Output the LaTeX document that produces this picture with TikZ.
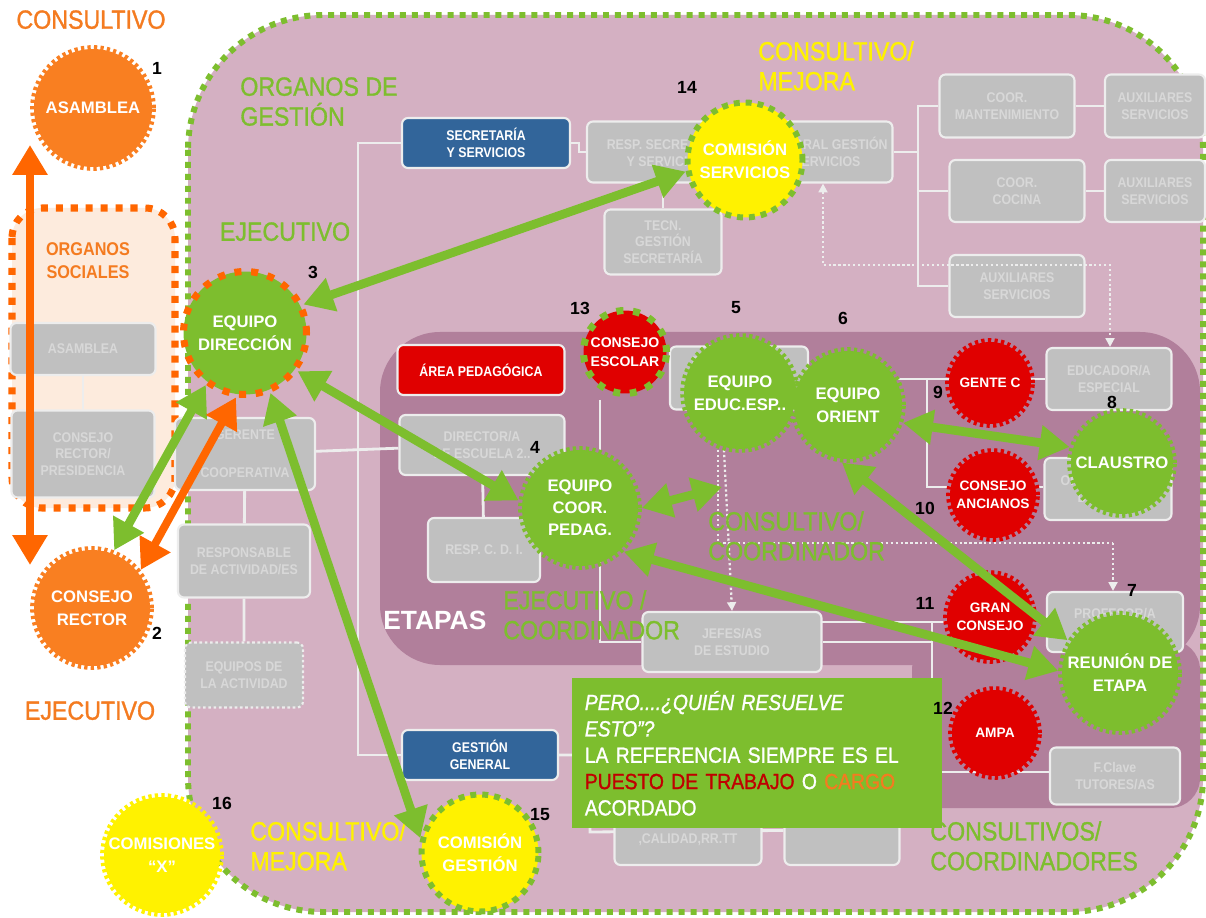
\documentclass[tikz,border=0pt]{standalone}
\usepackage{fontspec}
\setmainfont{Liberation Sans}
\newfontfamily\estrecha{Liberation Sans}[FakeStretch=0.88]
\newfontfamily\rotfont{Liberation Sans}[FakeStretch=0.88, FakeBold=1.2]
\usetikzlibrary{arrows.meta}

\definecolor{verde}{HTML}{7DBE2E}
\definecolor{naranja}{HTML}{F97F21}
\definecolor{naranjaF}{HTML}{FF6600}
\definecolor{naranjaT}{HTML}{F47B20}
\definecolor{rojo}{HTML}{E00000}
\definecolor{rojoT}{HTML}{C00000}
\definecolor{amarillo}{HTML}{FFF200}
\definecolor{azul}{HTML}{32659A}
\definecolor{gris}{HTML}{C0C0C0}
\definecolor{grisT}{HTML}{D8D8D8}
\definecolor{grisB}{HTML}{EDEDED}
\definecolor{malva}{HTML}{D4B0C2}
\definecolor{malvaO}{HTML}{B17F9B}
\definecolor{crema}{HTML}{FDEBDD}

\pgfdeclarelayer{fondo}
\pgfdeclarelayer{lineas}
\pgfsetlayers{fondo,lineas,main}

\tikzset{
  caja/.style={rounded corners=0.12cm, fill=gris, draw=grisB, line width=1.2pt, text=grisT,
    font=\estrecha\bfseries\fontsize{8}{9.5}\selectfont, align=center, inner sep=1pt},
  cajaazul/.style={caja, fill=azul, text=white},
  cajaroja/.style={caja, fill=rojo, text=white},
  cajapuntos/.style={caja, dash pattern=on 1.5pt off 1.5pt},
  burst/.style={circle, fill=#1, draw=#1, line width=4.4pt, dash pattern=on 1.8pt off 1.8pt,
    inner sep=0pt, text=white, align=center, font=\bfseries\fontsize{9.5}{13}\selectfont},
  punteado/.style 2 args={circle, fill=#1, draw=#2, line width=4pt, dash pattern=on 4pt off 5.5pt,
    inner sep=0pt, text=white, align=center, font=\bfseries\fontsize{9.5}{13}\selectfont},
  peque/.style={font=\bfseries\fontsize{7.8}{10.5}\selectfont},
  rotulo/.style={font=\rotfont\fontsize{15}{17}\selectfont, align=left, inner sep=0pt},
  numero/.style={font=\bfseries\fontsize{10}{10}\selectfont, inner sep=0pt},
  linea/.style={draw=grisB, line width=1.6pt},
  puntos/.style={draw=grisB, line width=1.3pt, dash pattern=on 1.3pt off 1.5pt,
    -{Triangle[length=5pt,width=5pt]}},
  flechaV/.style={draw=verde, line width=5pt,
    {Triangle[length=17pt,width=19pt]}-{Triangle[length=17pt,width=19pt]}},
  flechaN/.style={draw=naranjaF, line width=4.5pt,
    {Triangle[length=17pt,width=19pt]}-{Triangle[length=17pt,width=19pt]}},
  nota/.style={fill=verde, text=white, align=left, inner sep=0.25cm,
    font=\rotfont\fontsize{12.5}{15}\selectfont}
}

\begin{document}
\begin{tikzpicture}[x=0.02cm, y=-0.02cm]
  %%%%% FONDO %%%%%
  \useasboundingbox (0,0) rectangle (1206,918);
  \begin{pgfonlayer}{fondo}
    \fill[white] (0,0) rectangle (1206,918);
    \fill[malva, rounded corners=2.7cm] (188,15) rectangle (1203,912);
    \fill[malvaO, rounded corners=1.2cm] (380,332) rectangle (1200,665);
    \fill[malvaO, rounded corners=0.6cm] (912,640) rectangle (1200,808);
    \draw[fill=crema, draw=naranjaF, line width=4pt, dash pattern=on 4pt off 4.5pt,
      rounded corners=0.6cm] (12,208) rectangle (175,508);
    \draw[verde, line width=3.4pt, dash pattern=on 3.4pt off 3.4pt, rounded corners=2.7cm]
      (188,15) rectangle (1203,912);
  \end{pgfonlayer}

  %%%%% CAJAS %%%%%
  \node[caja, minimum width=2.9cm, minimum height=1.04cm] (asamS) at (83,349) {ASAMBLEA};
  \node[caja, minimum width=2.86cm, minimum height=1.74cm] (rectS) at (83,454) {CONSEJO\\RECTOR/\\PRESIDENCIA};
  \node[cajaazul, minimum width=3.36cm, minimum height=1.0cm] (secr) at (486,143) {SECRETARÍA\\Y SERVICIOS};
  \node[caja, minimum width=3.16cm, minimum height=1.22cm] (respSec) at (666,152) {RESP. SECRETARÍA\\Y SERVICIOS};
  \node[caja, minimum width=2.86cm, minimum height=1.22cm] (respGest) at (821,152) {RESP. GRAL GESTIÓN\\Y SERVICIOS};
  \node[caja, minimum width=2.34cm, minimum height=1.3cm] (tecn) at (663,242) {TECN.\\GESTIÓN\\SECRETARÍA};
  \node[caja, minimum width=2.7cm, minimum height=1.26cm] (coorMant) at (1007,106) {COOR.\\MANTENIMIENTO};
  \node[caja, minimum width=2.0cm, minimum height=1.26cm] (aux1) at (1155,106) {AUXILIARES\\SERVICIOS};
  \node[caja, minimum width=2.7cm, minimum height=1.24cm] (coorCoc) at (1017,191) {COOR.\\COCINA};
  \node[caja, minimum width=2.0cm, minimum height=1.24cm] (aux2) at (1155,191) {AUXILIARES\\SERVICIOS};
  \node[caja, minimum width=2.7cm, minimum height=1.24cm] (aux3) at (1017,286) {AUXILIARES\\SERVICIOS};
  \node[caja, minimum width=2.8cm, minimum height=1.44cm] (gerente) at (245,454) {GERENTE\\[12pt]COOPERATIVA};
  \node[caja, minimum width=2.64cm, minimum height=1.46cm] (respAct) at (244,561) {RESPONSABLE\\DE ACTIVIDAD/ES};
  \node[cajapuntos, minimum width=2.36cm, minimum height=1.3cm] (eqAct) at (244,675) {EQUIPOS DE\\LA ACTIVIDAD};
  \node[cajaroja, minimum width=3.34cm, minimum height=1.0cm] (areaPed) at (481,370) {ÁREA PEDAGÓGICA};
  \node[caja, minimum width=3.3cm, minimum height=1.2cm] (director) at (482,445) {DIRECTOR/A\\DE ESCUELA 2..};
  \node[caja, minimum width=2.24cm, minimum height=1.28cm] (respCDI) at (484,550) {RESP. C. D. I.};
  \node[caja, minimum width=2.76cm, minimum height=1.26cm] (respArea) at (739,378) {RESPONSABLE\\ÁREA\\EDUCACIÓN};
  \node[caja, minimum width=2.5cm, minimum height=1.24cm] (educEsp) at (1109,379) {EDUCADOR/A\\ESPECIAL};
  \node[caja, minimum width=2.54cm, minimum height=1.24cm] (orient) at (1108,489) {ORIENTADOR/A\\DE ETAPA};
  \node[caja, minimum width=3.58cm, minimum height=1.2cm] (jefes) at (732,642) {JEFES/AS\\DE ESTUDIO};
  \node[caja, minimum width=2.72cm, minimum height=1.2cm] (prof) at (1115,622) {PROFESOR/A\\ETAPA};
  \node[caja, minimum width=2.6cm, minimum height=1.14cm] (fclave) at (1115,776) {F.Clave\\TUTORES/AS};
  \node[cajaazul, minimum width=3.12cm, minimum height=1.0cm] (gestGen) at (480,755) {GESTIÓN\\GENERAL};
  \node[caja, minimum width=2.94cm, minimum height=1.4cm] (calidad) at (688,830) {COORDINACIÓN\\,CALIDAD,RR.TT};
  \node[caja, minimum width=2.3cm, minimum height=1.4cm] (tecnico) at (842,830) {TÉCNICO/A\\\phantom{X}};

  %%%%% LINEAS %%%%%
  \coordinate (tronco1) at (358,143);
  \coordinate (tronco2) at (358,755);
  \coordinate (tronco3) at (918,152);
  \coordinate (tronco4) at (600,642);
  \coordinate (tronco5) at (927,379);
  \coordinate (tronco6) at (932,622);
  \coordinate (tronco7) at (932,772);
  \coordinate (tronco8) at (590,832);
  \begin{pgfonlayer}{lineas}
    \draw[linea] (secr.west) -- (tronco1) -- (tronco2) -- (gestGen.west);
    \draw[linea] (secr.east) -- ++(8,0) |- (respSec.west);
    \draw[linea] (tecn.north) -- (tecn.north |- respSec.south);
    \draw[linea] (respGest) -- (tronco3);
    \draw[linea] (coorMant.west) -| (tronco3) |- (aux3.west);
    \draw[linea] (tronco3 |- coorCoc) -- (coorCoc);
    \draw[linea] (coorMant) -- (aux1);
    \draw[linea] (coorCoc) -- (aux2);
    \draw[linea] (asamS) -- (rectS);
    \draw[linea] (gerente) -- (director);
    \draw[linea] (gerente) -- (respAct) -- (eqAct);
    \draw[linea] (director) -- (respCDI);
    \draw[linea] (tronco4 |- 0,400) -- (tronco4) -- (jefes);
    \draw[linea] (848,379) -- (educEsp.west |- tronco5);
    \draw[linea] (tronco5) |- (orient.west |- 0,487);
    \draw[linea] (jefes) -| (tronco6) -- (tronco7) -- (fclave.west |- tronco7);
    \draw[linea] (jefes.center |- tronco6) -- (tronco6) -- (990,622);
    \draw[linea] (gestGen) -| (tronco8) -- (tecnico);
  \end{pgfonlayer}

  %%%%% PUNTEADAS %%%%%
  \coordinate (pA) at (823,265);
  \coordinate (pB) at (1110,265);
  \coordinate (pC) at (718,543);
  \coordinate (pD) at (1113,543);
  \draw[puntos, {Triangle[length=5pt,width=5pt]}-{Triangle[length=5pt,width=5pt]}]
    (respGest.south -| pA) -- (pA) -- (pB) -- (educEsp.north -| pB);
  \draw[puntos, -] (pC |- 0,450) -- (pC) -- (pD);
  \draw[puntos] (pD) -- (prof.north -| pD);
  \draw[puntos] (724,450) -- (jefes.north);

  %%%%% ROTULOS %%%%%
  \node[rotulo, text=naranjaT, anchor=north] (tConsul) at (91,10) {CONSULTIVO};
  \node[rotulo, text=naranjaT, anchor=north, align=center, font=\estrecha\bfseries\fontsize{10.5}{13}\selectfont] (tSociales) at (88,242) {ORGANOS\\SOCIALES};
  \node[rotulo, text=naranjaT, anchor=north] (tEjec) at (90,701) {EJECUTIVO};
  \node[rotulo, text=verde, anchor=north west] (tGestion) at (240,77) {ORGANOS DE\\GESTIÓN};
  \node[rotulo, text=verde, anchor=north] (tEjecV) at (285,222) {EJECUTIVO};
  \node[rotulo, text=amarillo, anchor=north west] (tMejora1) at (758,41) {CONSULTIVO/\\MEJORA};
  \node[font=\bfseries\fontsize{15}{16}\selectfont, text=white, anchor=north west, inner sep=0pt] (tEtapas) at (383,611) {ETAPAS};
  \node[rotulo, text=verde, anchor=north west] (tEjCoor) at (503,590) {EJECUTIVO /\\COORDINADOR};
  \node[rotulo, text=verde, anchor=north west] (tConCoor) at (708,511) {CONSULTIVO/\\COORDINADOR};
  \node[rotulo, text=amarillo, anchor=north west] (tMejora2) at (250,821) {CONSULTIVO/\\MEJORA};
  \node[rotulo, text=verde, anchor=north west] (tConsCoor) at (930,821) {CONSULTIVOS/\\COORDINADORES};

  %%%%% CIRCULOS %%%%%
  \node[burst=naranja, minimum size=2.36cm] (asamblea) at (93,108) {ASAMBLEA};
  \node[burst=naranja, minimum size=2.32cm] (consejoR) at (92,608) {CONSEJO\\RECTOR};
  \node[punteado={verde}{naranjaF}, minimum size=2.46cm] (eqDir) at (245,333) {EQUIPO\\DIRECCIÓN};
  \node[punteado={amarillo}{verde}, minimum size=2.3cm, line width=3.4pt, dash pattern=on 3.4pt off 3.4pt] (comServ) at (745,160) {COMISIÓN\\SERVICIOS};
  \node[punteado={rojo}{verde}, minimum size=1.66cm, font=\bfseries\fontsize{8}{11}\selectfont] (consEsc) at (625,352) {CONSEJO\\ESCOLAR};
  \node[burst=verde, minimum size=2.24cm] (eqEduc) at (740,393) {EQUIPO\\EDUC.ESP..};
  \node[burst=verde, minimum size=2.16cm] (eqOrient) at (848,405) {EQUIPO\\ORIENT};
  \node[burst=verde, minimum size=2.32cm, font=\bfseries\fontsize{9.5}{12.5}\selectfont] (eqCoor) at (580,508) {EQUIPO\\COOR.\\PEDAG.};
  \node[burst=rojo, peque, minimum size=1.64cm] (genteC) at (990,383) {GENTE C};
  \node[burst=verde, minimum size=2.04cm] (claustro) at (1122,463) {CLAUSTRO};
  \node[burst=rojo, peque, minimum size=1.72cm] (consAnc) at (993,495) {CONSEJO\\ANCIANOS};
  \node[burst=rojo, peque, minimum size=1.72cm] (granCons) at (990,617) {GRAN\\CONSEJO};
  \node[burst=verde, minimum size=2.32cm] (reunion) at (1120,673) {REUNIÓN DE\\ETAPA};
  \node[burst=rojo, peque, minimum size=1.72cm] (ampa) at (995,733) {AMPA};
  \node[punteado={amarillo}{verde}, minimum size=2.34cm, line width=3.4pt, dash pattern=on 3.4pt off 3.4pt] (comGest) at (480,853) {COMISIÓN\\GESTIÓN};
  \node[burst=amarillo, minimum size=2.32cm] (comX) at (162,855) {COMISIONES\\“X”};

  %%%%% FLECHAS %%%%%
  \coordinate (oArr1) at (30,145);
  \coordinate (oArr2) at (30,565);
  \coordinate (puntaE) at (722,487);
  \draw[flechaN] (oArr1) -- (oArr2);
  \draw[flechaV] (consejoR.69) -- (eqDir.233);
  \draw[flechaN] (consejoR.38) -- (eqDir.262);
  \draw[flechaV] (eqDir.26) -- (comServ.191);
  \draw[flechaV] (eqDir.324) -- (eqCoor.173);
  \draw[flechaV] (eqDir.293) -- (comGest.166);
  \draw[flechaV] (eqCoor.0) -- (puntaE);
  \draw[flechaV] (eqOrient.342) -- (claustro.163);
  \draw[flechaV] (eqOrient.264) -- (reunion.148);
  \draw[flechaV] (eqCoor.315) -- (reunion.178);

  %%%%% NOTA %%%%%
  \node[nota, anchor=north west, minimum width=7.36cm, minimum height=3cm, text width=6.9cm] (nota) at (572,678)
    {\textit{PERO....¿QUIÉN RESUELVE}\\\textit{ESTO”?}\\LA REFERENCIA SIEMPRE ES EL\\\textcolor{rojoT}{PUESTO DE TRABAJO} O \textcolor{naranjaT}{CARGO}\\ACORDADO};

  %%%%% NUMEROS %%%%%
  \node[numero] (n1) at (157,68) {1};
  \node[numero] (n2) at (157,633) {2};
  \node[numero] (n3) at (313,272) {3};
  \node[numero] (n4) at (535,447) {4};
  \node[numero] (n5) at (736,308) {5};
  \node[numero] (n6) at (843,318) {6};
  \node[numero] (n7) at (1132,590) {7};
  \node[numero] (n8) at (1112,402) {8};
  \node[numero] (n9) at (938,392) {9};
  \node[numero] (n10) at (925,508) {10};
  \node[numero] (n11) at (925,603) {11};
  \node[numero] (n12) at (943,708) {12};
  \node[numero] (n13) at (580,308) {13};
  \node[numero] (n14) at (687,87) {14};
  \node[numero] (n15) at (540,815) {15};
  \node[numero] (n16) at (222,803) {16};
\end{tikzpicture}
\end{document}
